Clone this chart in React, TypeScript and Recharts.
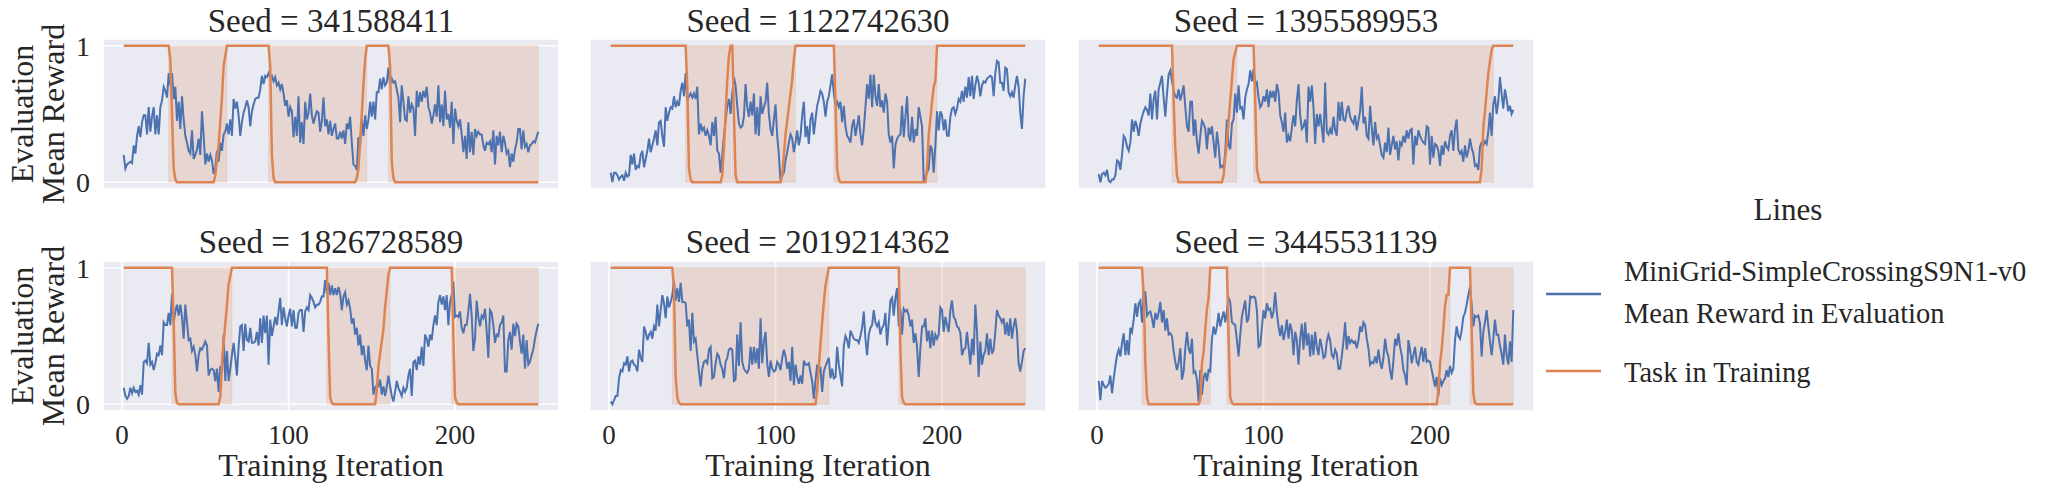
import { CartesianGrid, Line, LineChart, ReferenceArea, XAxis, YAxis } from "recharts";

const SEEDS = ["341588411", "1122742630", "1395589953", "1826728589", "2019214362", "3445531139"];

// evaluation mean reward, one value per training iteration (1..250)
const rewardSeed341588411 = [
  0.2, 0.1, 0.13, 0.14, 0.15, 0.14, 0.27, 0.21, 0.34, 0.41,
  0.33, 0.44, 0.49, 0.49, 0.35, 0.55, 0.37, 0.48, 0.55, 0.35,
  0.49, 0.35, 0.55, 0.6, 0.7, 0.67, 0.62, 0.8, 0.71, 0.8,
  0.61, 0.7, 0.45, 0.59, 0.39, 0.63, 0.46, 0.34, 0.29, 0.23,
  0.21, 0.38, 0.17, 0.2, 0.24, 0.32, 0.2, 0.52, 0.34, 0.13,
  0.21, 0.15, 0.2, 0.16, 0.06, 0.11, 0.23, 0.15, 0.29, 0.23,
  0.35, 0.37, 0.43, 0.35, 0.46, 0.34, 0.61, 0.54, 0.59, 0.49,
  0.34, 0.44, 0.51, 0.55, 0.6, 0.55, 0.41, 0.52, 0.57, 0.61,
  0.62, 0.62, 0.68, 0.78, 0.72, 0.78, 0.77, 0.8, 0.77, 0.78,
  0.74, 0.77, 0.71, 0.73, 0.68, 0.72, 0.65, 0.56, 0.6, 0.48,
  0.55, 0.52, 0.33, 0.48, 0.34, 0.63, 0.29, 0.44, 0.28, 0.59,
  0.46, 0.51, 0.65, 0.49, 0.43, 0.48, 0.52, 0.51, 0.37, 0.45,
  0.62, 0.41, 0.46, 0.35, 0.45, 0.34, 0.39, 0.43, 0.32, 0.32,
  0.37, 0.32, 0.38, 0.28, 0.43, 0.39, 0.48, 0.29, 0.13, 0.12,
  0.09, 0.33, 0.27, 0.46, 0.34, 0.49, 0.39, 0.46, 0.59, 0.48,
  0.59, 0.46, 0.66, 0.66, 0.76, 0.68, 0.77, 0.71, 0.73, 0.84,
  0.72, 0.76, 0.73, 0.74, 0.68, 0.62, 0.44, 0.71, 0.59, 0.46,
  0.45, 0.63, 0.51, 0.57, 0.54, 0.34, 0.67, 0.55, 0.66, 0.59,
  0.67, 0.62, 0.7, 0.55, 0.51, 0.43, 0.49, 0.57, 0.48, 0.71,
  0.44, 0.57, 0.41, 0.67, 0.46, 0.5, 0.4, 0.59, 0.28, 0.54,
  0.45, 0.41, 0.46, 0.35, 0.22, 0.34, 0.17, 0.44, 0.22, 0.37,
  0.2, 0.39, 0.34, 0.37, 0.35, 0.35, 0.27, 0.23, 0.29, 0.28,
  0.3, 0.22, 0.38, 0.13, 0.34, 0.27, 0.37, 0.22, 0.34, 0.29,
  0.21, 0.23, 0.11, 0.21, 0.15, 0.24, 0.29, 0.39, 0.39, 0.24,
  0.38, 0.26, 0.28, 0.22, 0.27, 0.28, 0.3, 0.29, 0.33, 0.37,
];

const rewardSeed1122742630 = [
  0.07, 0, 0.07, 0.07, 0.05, 0.02, 0.04, 0.05, 0.01, 0.07,
  0.04, 0.05, 0.2, 0.13, 0.21, 0.09, 0.12, 0.11, 0.2, 0.23,
  0.11, 0.17, 0.23, 0.32, 0.22, 0.27, 0.32, 0.38, 0.27, 0.44,
  0.45, 0.34, 0.26, 0.55, 0.45, 0.51, 0.55, 0.54, 0.63, 0.55,
  0.59, 0.56, 0.67, 0.73, 0.63, 0.8, 0.6, 0.63, 0.65, 0.62,
  0.65, 0.61, 0.7, 0.35, 0.43, 0.38, 0.4, 0.34, 0.38, 0.34,
  0.27, 0.44, 0.34, 0.48, 0.23, 0.21, 0.07, 0.2, 0.34, 0.45,
  0.56, 0.61, 0.5, 0.65, 0.77, 0.71, 0.56, 0.43, 0.4, 0.41,
  0.48, 0.72, 0.55, 0.48, 0.59, 0.49, 0.65, 0.35, 0.55, 0.34,
  0.63, 0.5, 0.55, 0.59, 0.73, 0.5, 0.39, 0.34, 0.46, 0.57,
  0.34, 0.2, 0.01, 0.05, 0.07, 0.16, 0.22, 0.29, 0.35, 0.32,
  0.22, 0.29, 0.38, 0.27, 0.34, 0.49, 0.59, 0.33, 0.41, 0.28,
  0.46, 0.51, 0.35, 0.46, 0.56, 0.61, 0.67, 0.65, 0.59, 0.48,
  0.59, 0.63, 0.71, 0.79, 0.65, 0.57, 0.59, 0.55, 0.59, 0.44,
  0.56, 0.41, 0.34, 0.32, 0.29, 0.41, 0.46, 0.34, 0.41, 0.49,
  0.35, 0.27, 0.39, 0.55, 0.72, 0.61, 0.79, 0.55, 0.79, 0.63,
  0.56, 0.72, 0.55, 0.6, 0.51, 0.65, 0.59, 0.35, 0.29, 0.34,
  0.1, 0.27, 0.32, 0.34, 0.35, 0.56, 0.33, 0.48, 0.63, 0.34,
  0.3, 0.48, 0.29, 0.39, 0.34, 0.55, 0.48, 0.41, 0.01, 0.04,
  0.07, 0.1, 0.27, 0.24, 0.07, 0.27, 0.52, 0.38, 0.52, 0.49,
  0.38, 0.46, 0.34, 0.34, 0.48, 0.54, 0.55, 0.5, 0.54, 0.61,
  0.59, 0.67, 0.59, 0.7, 0.62, 0.77, 0.63, 0.78, 0.61, 0.71,
  0.78, 0.73, 0.63, 0.71, 0.74, 0.73, 0.76, 0.77, 0.78, 0.77,
  0.63, 0.8, 0.89, 0.88, 0.73, 0.73, 0.67, 0.84, 0.83, 0.66,
  0.63, 0.66, 0.62, 0.71, 0.78, 0.7, 0.51, 0.39, 0.63, 0.76,
];

const rewardSeed1395589953 = [
  0.06, 0, 0.06, 0.07, 0.05, 0.09, 0.01, 0, 0.02, 0.02, 0.05, 0.16, 0.15, 0.09, 0.2,
  0.34, 0.32, 0.26, 0.23, 0.29, 0.46, 0.37, 0.45, 0.41, 0.34, 0.43, 0.48, 0.52, 0.55, 0.53,
  0.49, 0.65, 0.46, 0.61, 0.67, 0.46, 0.68, 0.73, 0.78, 0.62, 0.48, 0.65, 0.79, 0.82, 0.74,
  0.67, 0.63, 0.62, 0.68, 0.6, 0.65, 0.71, 0.55, 0.41, 0.37, 0.59, 0.59, 0.34, 0.46, 0.3,
  0.21, 0.34, 0.45, 0.43, 0.39, 0.24, 0.4, 0.35, 0.41, 0.29, 0.18, 0.37, 0.27, 0.11, 0.12,
  0.1, 0.22, 0.46, 0.27, 0.24, 0.43, 0.46, 0.65, 0.51, 0.71, 0.54, 0.55, 0.46, 0.62, 0.68,
  0.72, 0.82, 0.74, 0.83, 0.71, 0.73, 0.62, 0.55, 0.57, 0.63, 0.59, 0.68, 0.55, 0.67, 0.62,
  0.67, 0.59, 0.72, 0.66, 0.49, 0.44, 0.37, 0.51, 0.29, 0.34, 0.3, 0.4, 0.49, 0.41, 0.6,
  0.72, 0.49, 0.39, 0.41, 0.46, 0.29, 0.7, 0.59, 0.71, 0.55, 0.28, 0.5, 0.41, 0.5, 0.4,
  0.29, 0.73, 0.37, 0.35, 0.39, 0.35, 0.48, 0.38, 0.34, 0.59, 0.45, 0.59, 0.46, 0.45, 0.52,
  0.56, 0.48, 0.45, 0.43, 0.49, 0.38, 0.45, 0.52, 0.7, 0.43, 0.48, 0.34, 0.32, 0.56, 0.4,
  0.27, 0.44, 0.32, 0.34, 0.27, 0.2, 0.18, 0.29, 0.22, 0.4, 0.2, 0.27, 0.34, 0.24, 0.3,
  0.16, 0.29, 0.27, 0.34, 0.29, 0.38, 0.32, 0.38, 0.39, 0.13, 0.34, 0.27, 0.38, 0.34, 0.31,
  0.29, 0.28, 0.41, 0.4, 0.13, 0.34, 0.18, 0.28, 0.27, 0.23, 0.12, 0.27, 0.2, 0.3, 0.26,
  0.24, 0.34, 0.38, 0.23, 0.39, 0.46, 0.24, 0.21, 0.23, 0.15, 0.27, 0.18, 0.23, 0.32, 0.25,
  0.21, 0.12, 0.13, 0.09, 0.26, 0.29, 0.27, 0.3, 0.28, 0.37, 0.51, 0.34, 0.57, 0.63, 0.5,
  0.59, 0.77, 0.65, 0.54, 0.68, 0.61, 0.52, 0.56, 0.5, 0.53,
];

const rewardSeed1826728589 = [
  0.12, 0.06, 0.04, 0.06, 0.12, 0.08, 0.12, 0.09, 0.1, 0.07,
  0.14, 0.07, 0.31, 0.32, 0.3, 0.45, 0.29, 0.31, 0.25, 0.3,
  0.37, 0.36, 0.43, 0.36, 0.6, 0.58, 0.58, 0.67, 0.58, 0.81,
  0.6, 0.68, 0.73, 0.65, 0.73, 0.64, 0.48, 0.73, 0.6, 0.47,
  0.48, 0.39, 0.42, 0.36, 0.24, 0.36, 0.41, 0.4, 0.43, 0.46,
  0.43, 0.21, 0.25, 0.26, 0.25, 0.17, 0.26, 0.09, 0.28, 0.23,
  0.51, 0.17, 0.39, 0.17, 0.26, 0.36, 0.45, 0.34, 0.21, 0.42,
  0.57, 0.58, 0.39, 0.59, 0.47, 0.46, 0.56, 0.45, 0.45, 0.46,
  0.53, 0.43, 0.63, 0.45, 0.65, 0.52, 0.65, 0.29, 0.62, 0.5,
  0.57, 0.64, 0.58, 0.68, 0.78, 0.58, 0.71, 0.63, 0.57, 0.65,
  0.7, 0.57, 0.69, 0.56, 0.56, 0.67, 0.69, 0.69, 0.53, 0.68,
  0.71, 0.69, 0.8, 0.78, 0.75, 0.71, 0.73, 0.73, 0.75, 0.79,
  0.79, 0.91, 0.81, 0.89, 0.8, 0.87, 0.8, 0.85, 0.8, 0.86,
  0.81, 0.69, 0.79, 0.82, 0.73, 0.76, 0.7, 0.59, 0.63, 0.51,
  0.56, 0.43, 0.51, 0.36, 0.43, 0.32, 0.25, 0.43, 0.28, 0.26,
  0.07, 0.12, 0.14, 0.13, 0.18, 0.07, 0.13, 0.06, 0.13, 0.21,
  0.13, 0.06, 0.02, 0.09, 0.17, 0.12, 0.09, 0.06, 0.12, 0.09,
  0.12, 0.21, 0.26, 0.06, 0.31, 0.32, 0.25, 0.35, 0.29, 0.42,
  0.28, 0.51, 0.48, 0.42, 0.51, 0.47, 0.58, 0.65, 0.58, 0.75,
  0.8, 0.73, 0.79, 0.69, 0.8, 0.58, 0.75, 0.8, 0.9, 0.64,
  0.65, 0.64, 0.68, 0.56, 0.52, 0.58, 0.58, 0.68, 0.81, 0.65,
  0.39, 0.48, 0.76, 0.64, 0.57, 0.65, 0.63, 0.7, 0.54, 0.34,
  0.69, 0.67, 0.58, 0.45, 0.51, 0.5, 0.58, 0.6, 0.65, 0.24,
  0.24, 0.47, 0.53, 0.4, 0.59, 0.5, 0.59, 0.57, 0.46, 0.37,
  0.51, 0.26, 0.47, 0.29, 0.31, 0.36, 0.4, 0.48, 0.54, 0.59,
];

const rewardSeed2019214362 = [
  0.02, 0, 0.03, 0.06, 0.06, 0.19, 0.25, 0.24, 0.3, 0.29,
  0.35, 0.24, 0.31, 0.32, 0.29, 0.28, 0.24, 0.4, 0.34, 0.31,
  0.57, 0.53, 0.47, 0.51, 0.53, 0.48, 0.57, 0.54, 0.73, 0.57,
  0.69, 0.8, 0.74, 0.63, 0.79, 0.71, 0.75, 0.8, 0.9, 0.76,
  0.85, 0.75, 0.89, 0.75, 0.75, 0.74, 0.57, 0.62, 0.39, 0.67,
  0.46, 0.48, 0.36, 0.24, 0.13, 0.26, 0.31, 0.32, 0.3, 0.4,
  0.42, 0.19, 0.2, 0.3, 0.37, 0.35, 0.29, 0.26, 0.19, 0.31,
  0.34, 0.4, 0.41, 0.4, 0.17, 0.18, 0.51, 0.28, 0.6, 0.31,
  0.26, 0.24, 0.23, 0.26, 0.42, 0.29, 0.42, 0.3, 0.41, 0.26,
  0.63, 0.3, 0.46, 0.53, 0.3, 0.2, 0.32, 0.26, 0.24, 0.25,
  0.31, 0.29, 0.25, 0.34, 0.4, 0.35, 0.26, 0.31, 0.17, 0.42,
  0.14, 0.29, 0.2, 0.15, 0.21, 0.15, 0.32, 0.29, 0.29, 0.3,
  0.23, 0.17, 0.04, 0.17, 0.29, 0.24, 0.26, 0.09, 0.24, 0.28,
  0.31, 0.34, 0.19, 0.26, 0.19, 0.2, 0.42, 0.29, 0.21, 0.13,
  0.43, 0.5, 0.47, 0.41, 0.54, 0.51, 0.48, 0.47, 0.47, 0.45,
  0.5, 0.56, 0.68, 0.48, 0.36, 0.51, 0.56, 0.58, 0.69, 0.6,
  0.57, 0.6, 0.51, 0.56, 0.58, 0.67, 0.43, 0.6, 0.76, 0.78,
  0.65, 0.78, 0.85, 0.57, 0.7, 0.51, 0.7, 0.68, 0.69, 0.65,
  0.57, 0.62, 0.45, 0.52, 0.42, 0.2, 0.41, 0.57, 0.57, 0.63,
  0.46, 0.54, 0.41, 0.54, 0.43, 0.51, 0.48, 0.51, 0.71, 0.69,
  0.53, 0.64, 0.58, 0.53, 0.69, 0.76, 0.64, 0.62, 0.57, 0.56,
  0.52, 0.36, 0.4, 0.41, 0.53, 0.41, 0.29, 0.48, 0.36, 0.73,
  0.54, 0.2, 0.46, 0.29, 0.36, 0.39, 0.52, 0.36, 0.48, 0.37,
  0.4, 0.53, 0.69, 0.65, 0.63, 0.6, 0.63, 0.51, 0.6, 0.5,
  0.63, 0.48, 0.57, 0.63, 0.54, 0.3, 0.24, 0.31, 0.39, 0.41,
];

const rewardSeed3445531139 = [
  0.17, 0.03, 0.17, 0.14, 0.12, 0.13, 0.15, 0.21, 0.08, 0.19,
  0.28, 0.36, 0.4, 0.35, 0.45, 0.52, 0.36, 0.47, 0.36, 0.56,
  0.53, 0.62, 0.74, 0.64, 0.74, 0.76, 0.6, 0.82, 0.82, 0.65,
  0.67, 0.68, 0.63, 0.56, 0.67, 0.62, 0.67, 0.75, 0.6, 0.69,
  0.54, 0.63, 0.51, 0.52, 0.5, 0.39, 0.31, 0.25, 0.31, 0.41,
  0.18, 0.24, 0.41, 0.53, 0.41, 0.37, 0.48, 0.23, 0.24, 0.18,
  0.02, 0.25, 0.07, 0.19, 0.23, 0.17, 0.25, 0.24, 0.48, 0.57,
  0.51, 0.57, 0.67, 0.57, 0.63, 0.68, 0.6, 0.68, 0.78, 0.75,
  0.6, 0.59, 0.58, 0.47, 0.35, 0.51, 0.64, 0.7, 0.76, 0.6,
  0.63, 0.79, 0.78, 0.79, 0.78, 0.69, 0.42, 0.43, 0.56, 0.69,
  0.63, 0.74, 0.69, 0.7, 0.63, 0.68, 0.82, 0.67, 0.57, 0.5,
  0.58, 0.47, 0.53, 0.62, 0.48, 0.59, 0.54, 0.36, 0.53, 0.47,
  0.29, 0.48, 0.59, 0.4, 0.6, 0.43, 0.52, 0.35, 0.51, 0.36,
  0.53, 0.42, 0.36, 0.48, 0.42, 0.34, 0.35, 0.46, 0.51, 0.47,
  0.36, 0.34, 0.4, 0.37, 0.26, 0.26, 0.35, 0.46, 0.6, 0.4,
  0.5, 0.45, 0.47, 0.45, 0.46, 0.41, 0.47, 0.57, 0.53, 0.6,
  0.58, 0.48, 0.41, 0.29, 0.31, 0.3, 0.35, 0.3, 0.4, 0.31,
  0.26, 0.34, 0.48, 0.39, 0.35, 0.25, 0.18, 0.32, 0.48, 0.43,
  0.52, 0.42, 0.36, 0.25, 0.21, 0.14, 0.47, 0.4, 0.3, 0.36,
  0.42, 0.31, 0.29, 0.36, 0.42, 0.31, 0.41, 0.31, 0.32, 0.31,
  0.25, 0.19, 0.13, 0.2, 0.06, 0.19, 0.14, 0.17, 0.19, 0.25,
  0.2, 0.28, 0.23, 0.26, 0.47, 0.57, 0.5, 0.48, 0.54, 0.64,
  0.67, 0.73, 0.8, 0.86, 0.73, 0.57, 0.65, 0.64, 0.65, 0.59,
  0.35, 0.53, 0.6, 0.69, 0.57, 0.46, 0.36, 0.48, 0.62, 0.51,
  0.51, 0.43, 0.37, 0.29, 0.51, 0.36, 0.29, 0.46, 0.31, 0.69,
];

// task in training: [iteration, value] breakpoints of the (smoothed) 0/1 task curve
const taskSeed341588411 = [
  [1, 1], [28, 1], [29, 0.9], [30, 0.5], [31, 0.1], [32, 0.02], [33, 0],
  [55, 0], [56, 0.05], [58, 0.27], [60, 0.62], [61, 0.85], [63, 1],
  [88, 1], [89, 0.85], [90, 0.2], [91, 0.03], [92, 0],
  [140, 0], [141, 0.03], [142, 0.1], [144, 0.5], [145, 0.72], [146, 0.9], [147, 1],
  [160, 1], [161, 0.85], [162, 0.15], [163, 0.03], [164, 0], [250, 0],
];
const taskSeed1122742630 = [
  [1, 1], [46, 1], [47, 0.7], [48, 0.1], [49, 0.02], [50, 0],
  [67, 0], [68, 0.05], [69, 0.25], [70, 0.5], [71, 0.75], [72, 0.93], [73, 1],
  [74, 1], [75, 0.5], [76, 0.05], [77, 0],
  [103, 0], [104, 0.05], [105, 0.2], [106, 0.35], [108, 0.55], [110, 0.75], [111, 0.9], [112, 1],
  [135, 1], [136, 0.6], [137, 0.1], [138, 0.02], [139, 0],
  [190, 0], [191, 0.1], [192, 0.34], [194, 0.59], [195, 0.7], [196, 0.74], [197, 1], [250, 1],
];
const taskSeed1395589953 = [
  [1, 1], [45, 1], [46, 0.6], [47, 0.25], [48, 0.05], [49, 0],
  [75, 0], [76, 0.05], [78, 0.3], [80, 0.6], [82, 0.9], [84, 1],
  [94, 1], [95, 0.6], [96, 0.1], [97, 0.03], [98, 0],
  [230, 0], [231, 0.1], [232, 0.4], [233, 0.52], [235, 0.8], [237, 0.97], [238, 1], [250, 1],
];
const taskSeed1826728589 = [
  [1, 1], [30, 1], [31, 0.6], [32, 0.08], [33, 0.01], [34, 0],
  [58, 0], [59, 0.05], [60, 0.3], [61, 0.45], [63, 0.73], [64, 0.88], [66, 1],
  [123, 1], [124, 0.5], [125, 0.05], [126, 0.01], [127, 0],
  [152, 0], [153, 0.1], [154, 0.28], [155, 0.37], [157, 0.55], [158, 0.71], [160, 0.95], [161, 1],
  [198, 1], [199, 0.5], [200, 0.05], [201, 0.01], [202, 0], [250, 0],
];
const taskSeed2019214362 = [
  [1, 1], [38, 1], [39, 0.85], [40, 0.2], [41, 0.05], [42, 0.01], [43, 0],
  [124, 0], [125, 0.1], [126, 0.28], [128, 0.6], [129, 0.75], [130, 0.87], [132, 1],
  [174, 1], [175, 0.4], [176, 0.05], [177, 0.01], [178, 0], [250, 0],
];
const taskSeed3445531139 = [
  [1, 1], [27, 1], [28, 0.8], [29, 0.3], [30, 0.05], [31, 0],
  [61, 0], [62, 0.03], [63, 0.3], [64, 0.38], [65, 0.55], [66, 0.7], [67, 0.78], [68, 1],
  [78, 1], [79, 0.5], [80, 0.05], [81, 0.01], [82, 0],
  [204, 0], [205, 0.1], [206, 0.3], [207, 0.4], [208, 0.55], [209, 0.72], [210, 0.8], [211, 0.8], [212, 1],
  [224, 1], [225, 0.55], [226, 0.08], [227, 0.01], [228, 0], [250, 0],
];

const REWARDS = [
  rewardSeed341588411, rewardSeed1122742630, rewardSeed1395589953,
  rewardSeed1826728589, rewardSeed2019214362, rewardSeed3445531139,
];
const TASKS = [
  taskSeed341588411, taskSeed1122742630, taskSeed1395589953,
  taskSeed1826728589, taskSeed2019214362, taskSeed3445531139,
];

const X_TICKS = [0, 100, 200];
const Y_TICKS = [0, 1];

const BLUE = "#4C72B0";
const ORANGE = "#DD8452";
const TEXT = "#262626";
const FONT = "'Liberation Serif', 'DejaVu Serif', serif";

const PLOT_W = 456;
const PLOT_H = 150;
const Y_W = 50;
const X_H = 50;
const TOP_PAD = 20; // room so the "1" tick label is not clipped
const COL_LEFT = [103, 590, 1078];
const ROW_TOP = [39, 261];

// spans where the task curve leaves 1 until it comes back
function shadeSpans(task: number[][]) {
  const spans: number[][] = [];
  let start: number | null = null;
  task.forEach(([x, v], i) => {
    if (v < 1 && start === null) start = i > 0 ? task[i - 1][0] : x;
    if (v >= 1 && start !== null) {
      spans.push([start, x]);
      start = null;
    }
  });
  if (start !== null) spans.push([start, task[task.length - 1][0]]);
  return spans;
}

function Panel({ idx }: { idx: number }) {
  const row = Math.floor(idx / 3);
  const col = idx % 3;
  const data: { x: number; r: number; t?: number }[] = REWARDS[idx].map((r, i) => ({ x: i + 1, r }));
  TASKS[idx].forEach(([x, v]) => {
    data[x - 1].t = v;
  });
  const spans = shadeSpans(TASKS[idx]);

  return (
    <div style={{ position: "absolute", left: COL_LEFT[col] - Y_W, top: ROW_TOP[row] - TOP_PAD }}>
      <LineChart
        width={Y_W + PLOT_W}
        height={TOP_PAD + PLOT_H + X_H}
        data={data}
        margin={{ top: TOP_PAD, right: 0, bottom: 0, left: 0 }}
      >
        <CartesianGrid fill="#EAEAF2" fillOpacity={1} stroke="#ffffff" strokeWidth={1.6} />
        <XAxis
          type="number"
          dataKey="x"
          domain={[-11.45, 262.45]}
          ticks={X_TICKS}
          allowDataOverflow
          height={X_H}
          axisLine={false}
          tickLine={false}
          tickSize={0}
          tickMargin={14}
          tick={row === 1 ? { fill: TEXT, fontSize: 27, fontFamily: FONT } : false}
        />
        <YAxis
          type="number"
          domain={[-0.05, 1.05]}
          ticks={Y_TICKS}
          allowDataOverflow
          width={Y_W}
          axisLine={false}
          tickLine={false}
          tickSize={0}
          tickMargin={13}
          tick={col === 0 ? { fill: TEXT, fontSize: 28, fontFamily: FONT } : false}
        />
        {spans.map(([a, b], i) => (
          <ReferenceArea
            key={i}
            x1={a}
            x2={b}
            y1={0}
            y2={1}
            fill={ORANGE}
            fillOpacity={0.2}
            stroke={ORANGE}
            strokeOpacity={0.15}
          />
        ))}
        <Line
          type="linear"
          dataKey="r"
          stroke={BLUE}
          strokeWidth={2}
          dot={false}
          activeDot={false}
          isAnimationActive={false}
        />
        <Line
          type="linear"
          dataKey="t"
          stroke={ORANGE}
          strokeWidth={2.5}
          dot={false}
          activeDot={false}
          connectNulls
          isAnimationActive={false}
        />
      </LineChart>
    </div>
  );
}

export default function App() {
  const titleBase = [32, 253];
  const yMid = ROW_TOP.map((t) => t + PLOT_H / 2);
  return (
    <div style={{ position: "relative", width: 2053, height: 492, background: "#fff", fontFamily: FONT }}>
      <style>{"body{margin:0}"}</style>
      {SEEDS.map((_, i) => (
        <Panel key={i} idx={i} />
      ))}
      <svg
        width={2053}
        height={492}
        style={{ position: "absolute", left: 0, top: 0, pointerEvents: "none" }}
        fontFamily={FONT}
        fill={TEXT}
      >
        {SEEDS.map((seed, i) => (
          <text
            key={seed}
            x={COL_LEFT[i % 3] + PLOT_W / 2}
            y={titleBase[Math.floor(i / 3)]}
            fontSize={33}
            textAnchor="middle"
          >
            Seed = {seed}
          </text>
        ))}
        {yMid.map((y, i) => (
          <g key={i}>
            <text x={22} y={y} fontSize={32} textAnchor="middle" dominantBaseline="central" transform={`rotate(-90 22 ${y})`}>
              Evaluation
            </text>
            <text x={53} y={y} fontSize={32} textAnchor="middle" dominantBaseline="central" transform={`rotate(-90 53 ${y})`}>
              Mean Reward
            </text>
          </g>
        ))}
        {COL_LEFT.map((left, i) => (
          <text key={i} x={left + PLOT_W / 2} y={476} fontSize={32} textAnchor="middle">
            Training Iteration
          </text>
        ))}
        <text x={1788} y={209} fontSize={31} textAnchor="middle" dominantBaseline="central">
          Lines
        </text>
        <line x1={1546} x2={1601} y1={294} y2={294} stroke={BLUE} strokeWidth={2.5} />
        <text x={1624} y={271} fontSize={28.5} dominantBaseline="central">
          MiniGrid-SimpleCrossingS9N1-v0
        </text>
        <text x={1624} y={313} fontSize={28.5} dominantBaseline="central">
          Mean Reward in Evaluation
        </text>
        <line x1={1546} x2={1601} y1={371} y2={371} stroke={ORANGE} strokeWidth={2.5} />
        <text x={1624} y={372} fontSize={28.5} dominantBaseline="central">
          Task in Training
        </text>
      </svg>
    </div>
  );
}
